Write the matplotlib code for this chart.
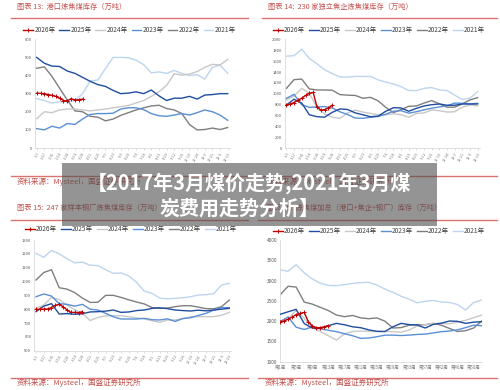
import numpy as np
import matplotlib
matplotlib.use("Agg")
import matplotlib.pyplot as plt
from matplotlib.patches import Rectangle
from matplotlib.lines import Line2D

plt.rcParams['font.family'] = ['Noto Sans CJK SC', 'DejaVu Sans']

W, H = 500, 390

years = ["2026年", "2025年", "2024年", "2023年", "2022年", "2021年"]
colors = ["#C00000", "#1F4E9F", "#C8C8C8", "#5B8FD6", "#7F7F7F", "#BDD5EE"]

date_labels = ["1-3", "1-17", "1-31", "2-14", "2-28", "3-14", "3-28", "4-11", "4-25",
               "5-9", "5-23", "6-6", "6-20", "7-4", "7-18", "8-1", "8-15", "8-29",
               "9-12", "9-26", "10-10", "10-24", "11-7", "11-21", "12-5", "12-19"]
week_labels = ["第1周", "第5周", "第9周", "第13周", "第17周", "第21周", "第25周",
               "第29周", "第33周", "第37周", "第42周", "第46周", "第50周"]

# 图表13 港口炼焦煤库存 (万吨), 2026 weekly, others every 2 weeks
port_2026 = [302, 302, 300, 295, 290, 285, 275, 262, 260, 272, 266, 266, 270]
port_2025 = [500, 468, 452, 450, 425, 412, 390, 368, 350, 340, 318, 300, 303,
             310, 300, 320, 288, 262, 275, 275, 285, 270, 292, 295, 300, 300]
port_2024 = [162, 200, 195, 210, 215, 215, 210, 205, 210, 215, 222, 228, 235,
             248, 262, 285, 310, 345, 410, 402, 408, 422, 445, 462, 458, 489]
port_2023 = [107, 100, 120, 110, 135, 130, 160, 185, 190, 190, 192, 215, 222,
             222, 212, 190, 178, 175, 182, 190, 182, 195, 210, 200, 182, 153]
port_2022 = [440, 448, 395, 330, 265, 205, 200, 175, 170, 150, 160, 180, 195,
             210, 222, 232, 236, 218, 210, 190, 130, 100, 102, 110, 102, 113]
port_2021 = [273, 262, 248, 255, 255, 262, 300, 370, 375, 438, 500, 500, 498,
             485, 460, 415, 420, 412, 428, 412, 400, 405, 380, 445, 458, 412]

# 图表14 230家独立焦企
coke_2026 = [795, 810, 840, 880, 920, 970, 1010, 1025, 760, 700, 710, 740, 790]
coke_2025 = [795, 900, 830, 615, 580, 572, 660, 722, 712, 650, 615, 580, 590,
             680, 745, 740, 680, 733, 777, 800, 813, 790, 790, 813, 813, 813]
coke_2024 = [887, 960, 1100, 1010, 750, 630, 570, 550, 650, 700, 665, 640, 615,
             615, 635, 615, 570, 640, 650, 703, 690, 665, 670, 755, 795, 777]
coke_2023 = [917, 990, 800, 752, 760, 765, 740, 670, 620, 555, 550, 570, 585,
             625, 680, 690, 645, 672, 705, 735, 760, 780, 830, 826, 813, 826]
coke_2022 = [1100, 1260, 1270, 1090, 1070, 1070, 1065, 985, 975, 970, 918, 935, 870,
             750, 655, 710, 770, 777, 830, 875, 815, 755, 755, 815, 887, 930]
coke_2021 = [1690, 1700, 1820, 1650, 1550, 1440, 1370, 1310, 1305, 1320, 1318, 1318, 1255,
             1215, 1180, 1130, 1060, 1058, 1100, 1115, 1070, 1060, 975, 895, 920, 1040]

# 图表15 247家样本钢厂
mill_2026 = [799, 799, 801, 801, 812, 828, 835, 818, 794, 777, 777, 775, 782]
mill_2025 = [782, 822, 840, 765, 768, 763, 767, 780, 782, 786, 794, 777, 780,
             790, 794, 806, 810, 804, 794, 790, 787, 793, 788, 794, 800, 806]
mill_2024 = [806, 830, 885, 870, 830, 796, 770, 718, 740, 752, 753, 753, 745,
             738, 729, 717, 705, 722, 722, 733, 745, 746, 746, 746, 756, 777]
mill_2023 = [890, 910, 895, 840, 835, 822, 835, 800, 794, 770, 745, 729, 729,
             729, 734, 724, 722, 730, 712, 732, 738, 755, 770, 794, 811, 811]
mill_2022 = [1011, 1065, 1085, 955, 945, 920, 880, 849, 850, 900, 900, 885, 868,
             852, 838, 812, 806, 808, 818, 825, 825, 815, 804, 803, 818, 866]
mill_2021 = [1204, 1175, 1225, 1200, 1165, 1135, 1140, 1118, 1115, 1085, 1059, 1062, 1040,
             995, 930, 915, 880, 875, 878, 882, 890, 902, 905, 912, 975, 987]

# 图表16 加总
total_2026 = [1986, 2003, 2050, 2100, 2160, 2190, 2215, 1990, 1880, 1840, 1840, 1860, 1890]
total_2025 = [2167, 2230, 2290, 1940, 1830, 1822, 1888, 1945, 1910, 1860, 1838, 1785, 1750,
              1745, 1860, 1945, 1915, 1904, 1830, 1920, 1950, 2003, 1995, 1945, 1975, 1986]
total_2024 = [1945, 2050, 2265, 2070, 1840, 1745, 1640, 1534, 1690, 1745, 1756, 1748, 1740,
              1740, 1740, 1725, 1780, 1880, 1915, 1945, 1940, 1935, 1975, 2020, 2085, 2151]
total_2023 = [1986, 2105, 1850, 1795, 1855, 1810, 1775, 1740, 1690, 1640, 1575, 1585, 1615,
              1655, 1655, 1645, 1655, 1672, 1680, 1710, 1740, 1756, 1785, 1840, 1900, 1888]
total_2022 = [2644, 2860, 2840, 2470, 2420, 2340, 2260, 2150, 2110, 2140, 2080, 2060, 2080,
              2000, 1830, 1840, 1900, 1915, 1910, 1945, 1900, 1820, 1745, 1765, 1830, 2003]
total_2021 = [3260, 3230, 3390, 3190, 3040, 2935, 2880, 2874, 2900, 2930, 2950, 2956, 2890,
              2790, 2710, 2615, 2540, 2450, 2490, 2510, 2470, 2460, 2410, 2274, 2460, 2521]

title_color = "#C0504D"
rule_color = "#D9736F"
tick_color = "#7F7F7F"

fig = plt.figure(figsize=(W / 100, H / 100), dpi=100)


def fx(px):
    return px / W


def fy(py):
    return 1 - py / H


def add_axes_px(left, top, right, bottom):
    return fig.add_axes([fx(left), fy(bottom), (right - left) / W, (bottom - top) / H])


def hrule(x0, x1, y):
    fig.add_artist(Line2D([fx(x0), fx(x1)], [fy(y), fy(y)], transform=fig.transFigure,
                          color=rule_color, lw=1.0))


def draw_panel(ax, x_full, x_new, new, full):
    # full is [2025, 2024, 2023, 2022, 2021]
    handles = []
    for vals, c, z in zip(full, colors[1:], [6, 3, 4, 2, 1]):
        h, = ax.plot(x_full, vals, color=c, lw=1.0, zorder=z)
        handles.append(h)
    h0, = ax.plot(x_new, new, color=colors[0], lw=1.0, marker='+', ms=2.6, mew=0.7, zorder=8)
    for s in ['top', 'right']:
        ax.spines[s].set_visible(False)
    for s in ['left', 'bottom']:
        ax.spines[s].set_color('#D9D9D9')
        ax.spines[s].set_linewidth(0.6)
    ax.tick_params(axis='y', length=0, pad=2, labelcolor='#595959')
    ax.tick_params(axis='x', length=1.5, width=0.4, color='#BFBFBF', pad=1, labelcolor=tick_color)
    return [h0] + handles


def legend_at(ax, handles, cx, cy):
    ax.legend(handles, years, loc='center', bbox_to_anchor=(fx(cx), fy(cy)),
              bbox_transform=fig.transFigure, ncol=6, frameon=False, fontsize=4.7,
              handlelength=1.5, handletextpad=0.2, columnspacing=0.6, borderaxespad=0,
              labelcolor='#404040')


xb = np.arange(26)
xw = np.arange(13) / 2

# ---- panel 1
ax1 = add_axes_px(34.8, 39.3, 229.6, 148)
hs = draw_panel(ax1, xb, xw, port_2026, [port_2025, port_2024, port_2023, port_2022, port_2021])
ax1.set_xlim(-0.25, 25.25)
ax1.set_ylim(0, 600)
ax1.set_yticks(range(0, 601, 100))
ax1.tick_params(axis='y', labelsize=3)
ax1.set_xticks(xb)
ax1.set_xticklabels(date_labels, rotation=60, fontsize=2.8, ha='right', rotation_mode='anchor')
legend_at(ax1, hs, 129.5, 30)

# ---- panel 2
ax2 = add_axes_px(284.5, 39.3, 479.5, 148.3)
hs = draw_panel(ax2, xb, xw, coke_2026, [coke_2025, coke_2024, coke_2023, coke_2022, coke_2021])
ax2.set_xlim(-0.25, 25.25)
ax2.set_ylim(0, 2000)
ax2.set_yticks(range(0, 2001, 200))
ax2.tick_params(axis='y', labelsize=3)
ax2.set_xticks(xb)
ax2.set_xticklabels(date_labels, rotation=60, fontsize=2.8, ha='right', rotation_mode='anchor')
legend_at(ax2, hs, 379, 30)

# ---- panel 3
ax3 = add_axes_px(34.1, 240, 231.2, 350.7)
hs = draw_panel(ax3, xb, xw, mill_2026, [mill_2025, mill_2024, mill_2023, mill_2022, mill_2021])
ax3.set_xlim(-0.25, 25.25)
ax3.set_ylim(500, 1300)
ax3.set_yticks(range(500, 1301, 100))
ax3.tick_params(axis='y', labelsize=3)
ax3.set_xticks(xb)
ax3.set_xticklabels(date_labels, rotation=60, fontsize=2.8, ha='right', rotation_mode='anchor')
legend_at(ax3, hs, 131, 229.5)

# ---- panel 4
ax4 = add_axes_px(280, 240, 481.7, 361.7)
hs = draw_panel(ax4, np.arange(0, 51, 2), np.arange(13), total_2026,
                [total_2025, total_2024, total_2023, total_2022, total_2021])
ax4.set_xlim(0, 50)
ax4.set_ylim(1000, 4000)
ax4.set_yticks(range(1000, 4001, 500))
ax4.tick_params(axis='y', labelsize=3.4)
ax4.set_xticks(np.arange(0, 49, 4))
ax4.set_xticklabels(week_labels, fontsize=3.2)
ax4.tick_params(axis='x', length=0, pad=2)
legend_at(ax4, hs, 379, 231)

# ---- titles, rules, sources
titles = ["图表 13:  港口炼焦煤库存（万吨）", "图表 14:  230 家独立焦企炼焦煤库存（万吨）",
          "图表 15:  247 家样本钢厂炼焦煤库存（万吨）", "图表 16:  炼焦煤加总（港口+焦企+钢厂）库存（万吨）"]
source = "资料来源：Mysteel，国盛证券研究所"
for t, (tx, ty) in zip(titles, [(17, 7), (268, 7), (17, 207.5), (266, 207.5)]):
    fig.text(fx(tx), fy(ty), t, fontsize=5.2, color=title_color, va='center', ha='left',
             style='italic')
for sx, sy in [(17, 182), (268, 182), (17, 383), (265, 383)]:
    fig.text(fx(sx), fy(sy), source, fontsize=5.4, color=title_color, va='center', ha='left',
             style='italic')
hrule(11, 248, 18.3)
hrule(262, 497, 18.3)
hrule(11, 248, 176)
hrule(262, 497, 176)
hrule(11, 248, 219.5)
hrule(258, 497, 220)
hrule(11, 248, 378)
hrule(258, 497, 378)

# ---- overlay banner
fig.add_artist(Rectangle((fx(62), fy(225.5)), 375 / W, 63 / H, transform=fig.transFigure,
                         facecolor='#4D4D4D', edgecolor='none', alpha=0.6, zorder=10))
fig.text(fx(249), fy(183), "【2017年3月煤价走势,2021年3月煤", fontsize=14.4, color='white',
         fontweight='bold', ha='center', va='center', zorder=11)
fig.text(fx(239), fy(208), "炭费用走势分析】", fontsize=14.4, color='white',
         fontweight='bold', ha='center', va='center', zorder=11)

fig.savefig("out.png", dpi=100)
